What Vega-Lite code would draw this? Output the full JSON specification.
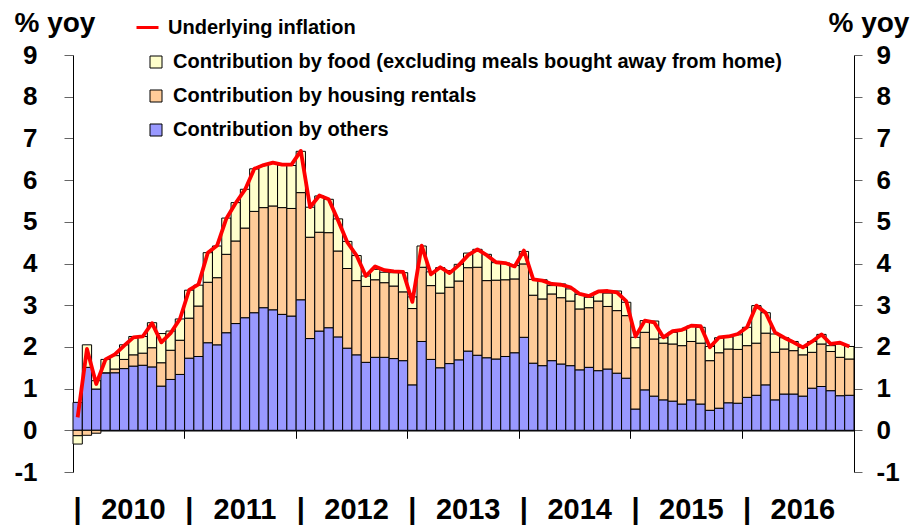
{
  "$schema": "https://vega.github.io/schema/vega-lite/v6.json",
  "width": 781,
  "height": 417,
  "autosize": "none",
  "padding": {"left": 73, "top": 55, "right": 67, "bottom": 57},
  "background": "white",
  "config": {"font": "Liberation Sans", "view": {"stroke": null}},
  "data": {
    "values": [
      {"m": "2010-01", "others": 0.67, "housing": -0.13, "food": -0.20, "u": 0.31},
      {"m": "2010-02", "others": 1.51, "housing": -0.12, "food": 0.54, "u": 1.95},
      {"m": "2010-03", "others": 0.99, "housing": -0.07, "food": 0.20, "u": 1.11},
      {"m": "2010-04", "others": 1.38, "housing": 0.00, "food": 0.32, "u": 1.70},
      {"m": "2010-05", "others": 1.38, "housing": 0.09, "food": 0.32, "u": 1.82},
      {"m": "2010-06", "others": 1.48, "housing": 0.22, "food": 0.35, "u": 2.03},
      {"m": "2010-07", "others": 1.54, "housing": 0.27, "food": 0.44, "u": 2.23},
      {"m": "2010-08", "others": 1.56, "housing": 0.29, "food": 0.40, "u": 2.25},
      {"m": "2010-09", "others": 1.52, "housing": 0.46, "food": 0.60, "u": 2.57},
      {"m": "2010-10", "others": 1.06, "housing": 0.56, "food": 0.70, "u": 2.11},
      {"m": "2010-11", "others": 1.22, "housing": 0.70, "food": 0.46, "u": 2.33},
      {"m": "2010-12", "others": 1.34, "housing": 0.82, "food": 0.51, "u": 2.67},
      {"m": "2011-01", "others": 1.73, "housing": 0.96, "food": 0.67, "u": 3.37},
      {"m": "2011-02", "others": 1.77, "housing": 1.21, "food": 0.50, "u": 3.50},
      {"m": "2011-03", "others": 2.10, "housing": 1.45, "food": 0.71, "u": 4.26},
      {"m": "2011-04", "others": 2.05, "housing": 1.61, "food": 0.76, "u": 4.43},
      {"m": "2011-05", "others": 2.34, "housing": 1.88, "food": 0.87, "u": 5.08},
      {"m": "2011-06", "others": 2.56, "housing": 1.98, "food": 0.92, "u": 5.45},
      {"m": "2011-07", "others": 2.70, "housing": 2.15, "food": 0.93, "u": 5.77},
      {"m": "2011-08", "others": 2.82, "housing": 2.43, "food": 1.02, "u": 6.27},
      {"m": "2011-09", "others": 2.94, "housing": 2.40, "food": 1.01, "u": 6.36},
      {"m": "2011-10", "others": 2.89, "housing": 2.49, "food": 1.02, "u": 6.42},
      {"m": "2011-11", "others": 2.78, "housing": 2.56, "food": 1.02, "u": 6.37},
      {"m": "2011-12", "others": 2.74, "housing": 2.58, "food": 1.03, "u": 6.37},
      {"m": "2012-01", "others": 3.13, "housing": 2.57, "food": 0.99, "u": 6.70},
      {"m": "2012-02", "others": 2.20, "housing": 2.43, "food": 0.72, "u": 5.35},
      {"m": "2012-03", "others": 2.38, "housing": 2.37, "food": 0.87, "u": 5.63},
      {"m": "2012-04", "others": 2.46, "housing": 2.28, "food": 0.80, "u": 5.54},
      {"m": "2012-05", "others": 2.24, "housing": 2.06, "food": 0.77, "u": 5.04},
      {"m": "2012-06", "others": 1.97, "housing": 1.91, "food": 0.65, "u": 4.51},
      {"m": "2012-07", "others": 1.81, "housing": 1.78, "food": 0.60, "u": 4.19},
      {"m": "2012-08", "others": 1.63, "housing": 1.82, "food": 0.25, "u": 3.70},
      {"m": "2012-09", "others": 1.75, "housing": 1.86, "food": 0.25, "u": 3.93},
      {"m": "2012-10", "others": 1.75, "housing": 1.79, "food": 0.25, "u": 3.84},
      {"m": "2012-11", "others": 1.72, "housing": 1.74, "food": 0.32, "u": 3.81},
      {"m": "2012-12", "others": 1.67, "housing": 1.65, "food": 0.46, "u": 3.80},
      {"m": "2013-01", "others": 1.09, "housing": 1.83, "food": 0.28, "u": 3.08},
      {"m": "2013-02", "others": 2.13, "housing": 1.78, "food": 0.51, "u": 4.43},
      {"m": "2013-03", "others": 1.70, "housing": 1.77, "food": 0.33, "u": 3.74},
      {"m": "2013-04", "others": 1.50, "housing": 1.79, "food": 0.61, "u": 3.91},
      {"m": "2013-05", "others": 1.60, "housing": 1.83, "food": 0.40, "u": 3.77},
      {"m": "2013-06", "others": 1.69, "housing": 1.89, "food": 0.40, "u": 3.96},
      {"m": "2013-07", "others": 1.90, "housing": 2.00, "food": 0.35, "u": 4.20},
      {"m": "2013-08", "others": 1.80, "housing": 2.11, "food": 0.43, "u": 4.34},
      {"m": "2013-09", "others": 1.74, "housing": 1.85, "food": 0.63, "u": 4.20},
      {"m": "2013-10", "others": 1.71, "housing": 1.89, "food": 0.42, "u": 4.03},
      {"m": "2013-11", "others": 1.77, "housing": 1.84, "food": 0.40, "u": 4.01},
      {"m": "2013-12", "others": 1.86, "housing": 1.77, "food": 0.32, "u": 3.93},
      {"m": "2014-01", "others": 2.23, "housing": 1.76, "food": 0.30, "u": 4.31},
      {"m": "2014-02", "others": 1.61, "housing": 1.63, "food": 0.38, "u": 3.62},
      {"m": "2014-03", "others": 1.55, "housing": 1.60, "food": 0.46, "u": 3.59},
      {"m": "2014-04", "others": 1.67, "housing": 1.60, "food": 0.20, "u": 3.51},
      {"m": "2014-05", "others": 1.59, "housing": 1.59, "food": 0.33, "u": 3.49},
      {"m": "2014-06", "others": 1.55, "housing": 1.55, "food": 0.29, "u": 3.43},
      {"m": "2014-07", "others": 1.45, "housing": 1.46, "food": 0.35, "u": 3.27},
      {"m": "2014-08", "others": 1.51, "housing": 1.43, "food": 0.25, "u": 3.22},
      {"m": "2014-09", "others": 1.43, "housing": 1.67, "food": 0.21, "u": 3.33},
      {"m": "2014-10", "others": 1.47, "housing": 1.50, "food": 0.32, "u": 3.34},
      {"m": "2014-11", "others": 1.37, "housing": 1.50, "food": 0.47, "u": 3.31},
      {"m": "2014-12", "others": 1.25, "housing": 1.50, "food": 0.32, "u": 3.10},
      {"m": "2015-01", "others": 0.51, "housing": 1.47, "food": 0.25, "u": 2.25},
      {"m": "2015-02", "others": 0.97, "housing": 1.38, "food": 0.28, "u": 2.63},
      {"m": "2015-03", "others": 0.82, "housing": 1.37, "food": 0.43, "u": 2.59},
      {"m": "2015-04", "others": 0.73, "housing": 1.36, "food": 0.13, "u": 2.23},
      {"m": "2015-05", "others": 0.70, "housing": 1.37, "food": 0.28, "u": 2.38},
      {"m": "2015-06", "others": 0.63, "housing": 1.40, "food": 0.38, "u": 2.41},
      {"m": "2015-07", "others": 0.73, "housing": 1.40, "food": 0.37, "u": 2.51},
      {"m": "2015-08", "others": 0.63, "housing": 1.46, "food": 0.38, "u": 2.50},
      {"m": "2015-09", "others": 0.48, "housing": 1.19, "food": 0.34, "u": 1.99},
      {"m": "2015-10", "others": 0.53, "housing": 1.33, "food": 0.36, "u": 2.23},
      {"m": "2015-11", "others": 0.66, "housing": 1.29, "food": 0.29, "u": 2.25},
      {"m": "2015-12", "others": 0.65, "housing": 1.29, "food": 0.35, "u": 2.31},
      {"m": "2016-01", "others": 0.79, "housing": 1.24, "food": 0.44, "u": 2.47},
      {"m": "2016-02", "others": 0.84, "housing": 1.25, "food": 0.90, "u": 2.99},
      {"m": "2016-03", "others": 1.09, "housing": 1.24, "food": 0.49, "u": 2.82},
      {"m": "2016-04", "others": 0.73, "housing": 1.14, "food": 0.44, "u": 2.35},
      {"m": "2016-05", "others": 0.87, "housing": 1.08, "food": 0.27, "u": 2.22},
      {"m": "2016-06", "others": 0.87, "housing": 1.04, "food": 0.22, "u": 2.11},
      {"m": "2016-07", "others": 0.82, "housing": 0.99, "food": 0.18, "u": 1.99},
      {"m": "2016-08", "others": 1.01, "housing": 0.86, "food": 0.26, "u": 2.13},
      {"m": "2016-09", "others": 1.05, "housing": 1.02, "food": 0.23, "u": 2.30},
      {"m": "2016-10", "others": 0.95, "housing": 0.94, "food": 0.14, "u": 2.07},
      {"m": "2016-11", "others": 0.83, "housing": 0.92, "food": 0.32, "u": 2.10},
      {"m": "2016-12", "others": 0.84, "housing": 0.87, "food": 0.30, "u": 2.01}
    ]
  },
  "layer": [
    {
      "transform": [{"fold": ["others", "housing", "food"], "as": ["key", "value"]}],
      "mark": {"type": "bar", "stroke": "#000000", "strokeWidth": 1},
      "encoding": {
        "x": {
          "field": "m",
          "type": "ordinal",
          "scale": {"paddingInner": 0, "paddingOuter": 0},
          "axis": {
            "orient": "bottom",
            "offset": -41.7,
            "title": null,
            "values": ["2010-01", "2010-07", "2011-01", "2011-07", "2012-01", "2012-07", "2013-01", "2013-07", "2014-01", "2014-07", "2015-01", "2015-07", "2016-01", "2016-07"],
            "bandPosition": 0,
            "labelExpr": "indexof(datum.value, '-01') > 0 ? '|' : slice(datum.value, 0, 4)",
            "labelAngle": 0,
            "labelAlign": "center",
            "labelFontSize": 29,
            "labelFontWeight": "bold",
            "labelColor": "#000000",
            "labelBaseline": "alphabetic",
            "labelPadding": 80,
            "labelOverlap": false,
            "labelBound": false,
            "labelFlush": false,
            "tickSize": 8,
            "tickColor": "#000000",
            "tickOpacity": {"condition": {"test": "indexof(datum.value, '-07') > 0", "value": 0}, "value": 1},
            "domainColor": "#000000",
            "domainWidth": 1.5,
            "grid": false
          }
        },
        "y": {
          "field": "value",
          "type": "quantitative",
          "stack": "zero",
          "scale": {"domain": [-1, 9], "nice": false, "zero": false},
          "axis": {
            "orient": "left",
            "values": [-1, 0, 1, 2, 3, 4, 5, 6, 7, 8, 9],
            "labelExpr": "'' + datum.value",
            "title": "% yoy",
            "titleAngle": 0,
            "titleAlign": "left",
            "titleBaseline": "alphabetic",
            "titleX": -59,
            "titleY": -24,
            "titleFontSize": 28,
            "titleFontWeight": "bold",
            "titleColor": "#000000",
            "labelFontSize": 26,
            "labelFontWeight": "bold",
            "labelColor": "#000000",
            "labelPadding": 27,
            "labelDy": 2,
            "tickSize": 9,
            "tickColor": "#666666",
            "domainColor": "#000000",
            "grid": false
          }
        },
        "fill": {
          "field": "key",
          "type": "nominal",
          "scale": {"domain": ["food", "housing", "others"], "range": ["#FFFFCC", "#FFCC99", "#9999FF"]},
          "legend": {
            "orient": "none",
            "legendX": 73,
            "legendY": -3,
            "title": null,
            "symbolType": "square",
            "symbolSize": 144,
            "symbolStrokeColor": "#000000",
            "symbolStrokeWidth": 1,
            "labelFontSize": 20,
            "labelFontWeight": "bold",
            "labelColor": "#000000",
            "labelOffset": 7,
            "labelLimit": 900,
            "rowPadding": 14,
            "labelExpr": "datum.label == 'food' ? 'Contribution by food (excluding meals bought away from home)' : datum.label == 'housing' ? 'Contribution by housing rentals' : 'Contribution by others'"
          }
        },
        "order": {"field": "key", "sort": "descending"}
      }
    },
    {
      "mark": {"type": "line", "strokeWidth": 3.8, "strokeJoin": "round"},
      "encoding": {
        "x": {"field": "m", "type": "ordinal"},
        "y": {
          "field": "u",
          "type": "quantitative",
          "scale": {"domain": [-1, 9], "nice": false, "zero": false},
          "axis": {
            "orient": "right",
            "values": [-1, 0, 1, 2, 3, 4, 5, 6, 7, 8, 9],
            "labelExpr": "'' + datum.value",
            "title": "% yoy",
            "titleAngle": 0,
            "titleAlign": "left",
            "titleBaseline": "alphabetic",
            "titleX": -26,
            "titleY": -24,
            "titleFontSize": 28,
            "titleFontWeight": "bold",
            "titleColor": "#000000",
            "labelFontSize": 26,
            "labelFontWeight": "bold",
            "labelColor": "#000000",
            "labelPadding": 14,
            "labelDy": 2,
            "tickSize": 8,
            "tickColor": "#666666",
            "domainColor": "#000000",
            "grid": false
          }
        },
        "stroke": {
          "datum": "Underlying inflation",
          "type": "nominal",
          "scale": {"range": ["#FF0000"]},
          "legend": {
            "orient": "none",
            "legendX": 62,
            "legendY": -40,
            "title": null,
            "symbolType": "stroke",
            "symbolSize": 484,
            "symbolStrokeWidth": 3,
            "labelFontSize": 20,
            "labelFontWeight": "bold",
            "labelColor": "#000000",
            "labelOffset": 8,
            "labelLimit": 900
          }
        }
      }
    }
  ],
  "resolve": {"scale": {"y": "independent"}}
}
